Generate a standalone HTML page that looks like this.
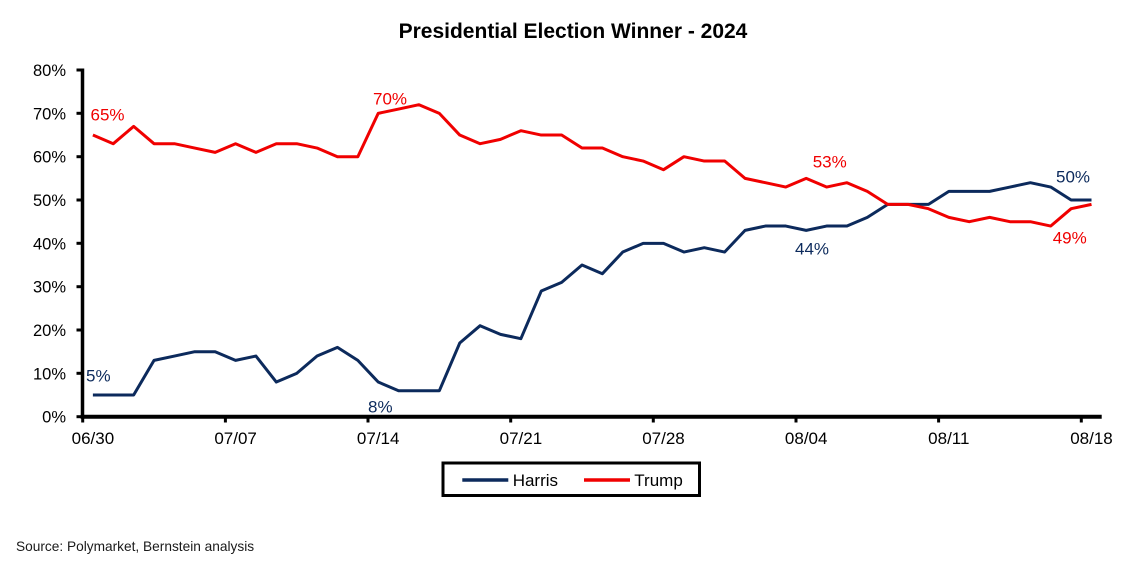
<!DOCTYPE html>
<html>
<head>
<meta charset="utf-8">
<style>
html,body{margin:0;padding:0;background:#fff;}
body{width:1136px;height:579px;overflow:hidden;}
svg{display:block;}
text{font-family:"Liberation Sans",Arial,sans-serif;}
</style>
</head>
<body>
<svg width="1136" height="579" viewBox="0 0 1136 579" xmlns="http://www.w3.org/2000/svg">
<rect width="1136" height="579" fill="#fff"/>
<text x="573" y="38" text-anchor="middle" font-size="21" font-weight="bold" fill="#000">Presidential Election Winner - 2024</text>

<!-- y tick labels -->
<g font-size="16.5" fill="#000" text-anchor="end">
<text x="66" y="76">80%</text>
<text x="66" y="119.3">70%</text>
<text x="66" y="162.7">60%</text>
<text x="66" y="206">50%</text>
<text x="66" y="249.3">40%</text>
<text x="66" y="292.7">30%</text>
<text x="66" y="336">20%</text>
<text x="66" y="379.3">10%</text>
<text x="66" y="422.7">0%</text>
</g>

<!-- series -->
<g transform="translate(92.89,416.7) scale(20.38,-4.3333)" fill="none" stroke-linejoin="round">
<polyline vector-effect="non-scaling-stroke" stroke="#0c2a5c" stroke-width="3" points="0,5 1,5 2,5 3,13 4,14 5,15 6,15 7,13 8,14 9,8 10,10 11,14 12,16 13,13 14,8 15,6 16,6 17,6 18,17 19,21 20,19 21,18 22,29 23,31 24,35 25,33 26,38 27,40 28,40 29,38 30,39 31,38 32,43 33,44 34,44 35,43 36,44 37,44 38,46 39,49 40,49 41,49 42,52 43,52 44,52 45,53 46,54 47,53 48,50 49,50"/>
<polyline vector-effect="non-scaling-stroke" stroke="#f00000" stroke-width="3" points="0,65 1,63 2,67 3,63 4,63 5,62 6,61 7,63 8,61 9,63 10,63 11,62 12,60 13,60 14,70 15,71 16,72 17,70 18,65 19,63 20,64 21,66 22,65 23,65 24,62 25,62 26,60 27,59 28,57 29,60 30,59 31,59 32,55 33,54 34,53 35,55 36,53 37,54 38,52 39,49 40,49 41,48 42,46 43,45 44,46 45,45 46,45 47,44 48,48 49,49"/>
</g>

<!-- axes -->
<g stroke="#000" fill="none">
<line x1="82.5" y1="68.5" x2="82.5" y2="418.7" stroke-width="3.5"/>
<line x1="80.7" y1="416.7" x2="1101.7" y2="416.7" stroke-width="4"/>
<g stroke-width="3">
<line x1="76.5" y1="70" x2="82.5" y2="70"/>
<line x1="76.5" y1="113.3" x2="82.5" y2="113.3"/>
<line x1="76.5" y1="156.7" x2="82.5" y2="156.7"/>
<line x1="76.5" y1="200" x2="82.5" y2="200"/>
<line x1="76.5" y1="243.3" x2="82.5" y2="243.3"/>
<line x1="76.5" y1="286.7" x2="82.5" y2="286.7"/>
<line x1="76.5" y1="330" x2="82.5" y2="330"/>
<line x1="76.5" y1="373.3" x2="82.5" y2="373.3"/>
<line x1="76.5" y1="416.7" x2="82.5" y2="416.7"/>
<line x1="82.7" y1="416.7" x2="82.7" y2="422.5"/>
<line x1="225.4" y1="416.7" x2="225.4" y2="422.5"/>
<line x1="368" y1="416.7" x2="368" y2="422.5"/>
<line x1="510.7" y1="416.7" x2="510.7" y2="422.5"/>
<line x1="653.3" y1="416.7" x2="653.3" y2="422.5"/>
<line x1="796" y1="416.7" x2="796" y2="422.5"/>
<line x1="938.6" y1="416.7" x2="938.6" y2="422.5"/>
<line x1="1081.3" y1="416.7" x2="1081.3" y2="422.5"/>
</g>
</g>

<!-- x tick labels -->
<g font-size="17" fill="#000" text-anchor="middle">
<text x="92.9" y="444">06/30</text>
<text x="235.6" y="444">07/07</text>
<text x="378.2" y="444">07/14</text>
<text x="520.9" y="444">07/21</text>
<text x="663.5" y="444">07/28</text>
<text x="806.2" y="444">08/04</text>
<text x="948.8" y="444">08/11</text>
<text x="1091.5" y="444">08/18</text>
</g>

<!-- data labels -->
<g font-size="17">
<text x="90.5" y="120.3" fill="#f00000">65%</text>
<text x="373" y="104.3" fill="#f00000">70%</text>
<text x="86" y="381.7" fill="#0c2a5c">5%</text>
<text x="368" y="412.7" fill="#0c2a5c">8%</text>
<text x="812.7" y="167.7" fill="#f00000">53%</text>
<text x="795" y="254.3" fill="#0c2a5c">44%</text>
<text x="1056" y="182.7" fill="#0c2a5c">50%</text>
<text x="1052.7" y="243.3" fill="#f00000">49%</text>
</g>

<!-- legend -->
<rect x="443" y="463" width="256.5" height="32.5" fill="#fff" stroke="#000" stroke-width="3"/>
<line x1="462.3" y1="480" x2="508.3" y2="480" stroke="#0c2a5c" stroke-width="3.5"/>
<text x="512.7" y="486" font-size="17" fill="#000">Harris</text>
<line x1="584" y1="480" x2="630" y2="480" stroke="#f00000" stroke-width="3.5"/>
<text x="634.3" y="486" font-size="17" fill="#000">Trump</text>

<text x="16" y="551" font-size="13.7" fill="#1a1a1a">Source: Polymarket, Bernstein analysis</text>
</svg>
</body>
</html>
